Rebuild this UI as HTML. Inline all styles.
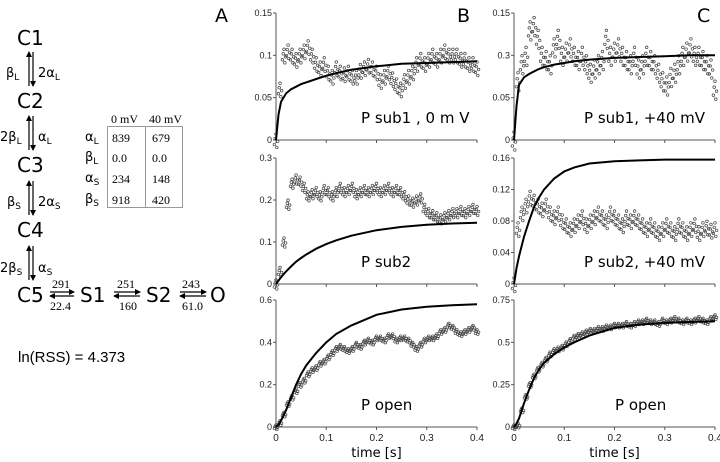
<!DOCTYPE html>
<html><head><meta charset="utf-8"><style>
html,body{margin:0;padding:0;background:#fff;width:720px;height:462px;overflow:hidden}
svg{display:block;font-family:"Liberation Sans",sans-serif}
</style></head><body>
<svg id="fig" width="720" height="462" viewBox="0 0 720 462">
<defs>
  <marker id="ah" viewBox="0 0 6 6" refX="5" refY="3" markerWidth="5" markerHeight="5" orient="auto"><path d="M0 0L6 3L0 6z" fill="#000"/></marker>
</defs>
<g id="diagram" font-family="'DejaVu Sans','Liberation Sans',sans-serif" fill="#000">
  <text x="215" y="22" font-size="19">A</text>
  <text x="17" y="45" font-size="20">C1</text>
  <text x="17" y="108" font-size="20">C2</text>
  <text x="17" y="172" font-size="20">C3</text>
  <text x="17" y="237" font-size="20">C4</text>
  <text x="17" y="302" font-size="20">C5</text>
  <text x="80" y="302" font-size="20">S1</text>
  <text x="146" y="302" font-size="20">S2</text>
  <text x="210" y="302" font-size="20">O</text>
  <g stroke="#000" stroke-width="1.2">
    <line x1="29" y1="86" x2="29" y2="52" marker-end="url(#ah)"/><line x1="33" y1="52" x2="33" y2="86" marker-end="url(#ah)"/>
    <line x1="29" y1="150" x2="29" y2="116" marker-end="url(#ah)"/><line x1="33" y1="116" x2="33" y2="150" marker-end="url(#ah)"/>
    <line x1="29" y1="215" x2="29" y2="181" marker-end="url(#ah)"/><line x1="33" y1="181" x2="33" y2="215" marker-end="url(#ah)"/>
    <line x1="29" y1="280" x2="29" y2="246" marker-end="url(#ah)"/><line x1="33" y1="246" x2="33" y2="280" marker-end="url(#ah)"/>
    <line x1="50" y1="292" x2="74" y2="292" marker-end="url(#ah)"/><line x1="74" y1="296" x2="50" y2="296" marker-end="url(#ah)"/>
    <line x1="114" y1="292" x2="140" y2="292" marker-end="url(#ah)"/><line x1="140" y1="296" x2="114" y2="296" marker-end="url(#ah)"/>
    <line x1="180" y1="292" x2="206" y2="292" marker-end="url(#ah)"/><line x1="206" y1="296" x2="180" y2="296" marker-end="url(#ah)"/>
  </g>
  <g font-size="13">
    <text x="6" y="77">β<tspan font-size="9" dy="3">L</tspan></text><text x="38" y="77">2α<tspan font-size="9" dy="3">L</tspan></text>
    <text x="0" y="141">2β<tspan font-size="9" dy="3">L</tspan></text><text x="38" y="141">α<tspan font-size="9" dy="3">L</tspan></text>
    <text x="7" y="206">β<tspan font-size="9" dy="3">S</tspan></text><text x="38" y="206">2α<tspan font-size="9" dy="3">S</tspan></text>
    <text x="0" y="272">2β<tspan font-size="9" dy="3">S</tspan></text><text x="38" y="272">α<tspan font-size="9" dy="3">S</tspan></text>
  </g>
  <g font-family="'Liberation Serif',serif" font-size="12">
    <text x="52" y="288">291</text><text x="50" y="310">22.4</text>
    <text x="117" y="288">251</text><text x="119" y="310">160</text>
    <text x="182" y="288">243</text><text x="182" y="310">61.0</text>
  </g>
  <g>
    <rect x="107.5" y="126.5" width="75" height="81" fill="none" stroke="#999"/>
    <line x1="145.5" y1="126" x2="145.5" y2="207" stroke="#999"/>
    <g font-family="'Liberation Serif',serif" font-size="12">
      <text x="111" y="123">0 mV</text><text x="149" y="123">40 mV</text>
      <text x="112" y="142">839</text><text x="152" y="142">679</text>
      <text x="112" y="162">0.0</text><text x="152" y="162">0.0</text>
      <text x="112" y="183">234</text><text x="152" y="183">148</text>
      <text x="112" y="204">918</text><text x="152" y="204">420</text>
    </g>
    <g font-size="13">
      <text x="85" y="141">α<tspan font-size="9" dy="3">L</tspan></text>
      <text x="85" y="161">β<tspan font-size="9" dy="3">L</tspan></text>
      <text x="85" y="182">α<tspan font-size="9" dy="3">S</tspan></text>
      <text x="85" y="203">β<tspan font-size="9" dy="3">S</tspan></text>
    </g>
  </g>
  <text x="18" y="362" font-size="15" font-family="'Liberation Sans',sans-serif">ln(RSS) = 4.373</text>
  <text x="457" y="22" font-size="19">B</text>
  <text x="697" y="22" font-size="19">C</text>
</g>
<g id="charts"></g>
</svg>
<script>
// time grid for scatter data (s)
const dataTimes = [0,0.008,0.016,0.024,0.032,0.04,0.048,0.056,0.064,0.072,0.08,0.088,0.096,0.104,0.112,0.12,0.128,0.136,0.144,0.152,0.16,0.168,0.176,0.184,0.192,0.2,0.208,0.216,0.224,0.232,0.24,0.248,0.256,0.264,0.272,0.28,0.288,0.296,0.304,0.312,0.32,0.328,0.336,0.344,0.352,0.36,0.368,0.376,0.384,0.392,0.4];
const fitTimes = [0,0.005,0.01,0.02,0.03,0.04,0.05,0.06,0.08,0.1,0.12,0.15,0.2,0.25,0.3,0.35,0.4];
const xTicks = [0,0.1,0.2,0.3,0.4];
const xTickLabels = ["0","0.1","0.2","0.3","0.4"];

const b1Data = [0,0.06,0.1,0.105,0.1,0.095,0.1,0.105,0.11,0.1,0.09,0.085,0.09,0.08,0.075,0.085,0.08,0.078,0.08,0.075,0.075,0.082,0.085,0.088,0.085,0.08,0.07,0.075,0.08,0.072,0.065,0.06,0.07,0.075,0.08,0.09,0.095,0.09,0.095,0.1,0.095,0.1,0.105,0.1,0.1,0.1,0.095,0.095,0.09,0.09,0.085];
const b1Fit = [0,0.03,0.045,0.055,0.06,0.063,0.066,0.068,0.072,0.076,0.079,0.083,0.087,0.09,0.091,0.092,0.093];
const b1Ticks = [0,0.05,0.1,0.15];
const b1TickLabels = ["0","0.05","0.1","0.15"];

const c1Data = [0,0.07,0.09,0.1,0.13,0.135,0.12,0.1,0.095,0.09,0.11,0.12,0.1,0.105,0.11,0.1,0.095,0.1,0.09,0.08,0.085,0.09,0.095,0.12,0.1,0.105,0.11,0.1,0.095,0.09,0.1,0.085,0.09,0.1,0.095,0.09,0.08,0.07,0.065,0.075,0.08,0.09,0.1,0.105,0.11,0.1,0.1,0.095,0.09,0.085,0.06];
const c1Fit = [0,0.04,0.065,0.074,0.078,0.081,0.084,0.086,0.089,0.091,0.093,0.095,0.097,0.098,0.099,0.1,0.1];
const c1Ticks = [0,0.05,0.1,0.15];
const c1TickLabels = ["0","0.05","0.3","0.15"];

const b2Data = [0,0.03,0.1,0.19,0.24,0.25,0.245,0.23,0.21,0.215,0.22,0.21,0.225,0.22,0.21,0.22,0.23,0.22,0.225,0.23,0.215,0.22,0.225,0.22,0.225,0.23,0.22,0.225,0.23,0.22,0.225,0.22,0.21,0.2,0.195,0.2,0.205,0.18,0.17,0.165,0.16,0.155,0.16,0.165,0.17,0.17,0.175,0.17,0.175,0.18,0.175];
const b2Fit = [0,0.008,0.016,0.03,0.042,0.053,0.062,0.07,0.084,0.095,0.104,0.115,0.128,0.136,0.141,0.144,0.146];
const b2Ticks = [0,0.1,0.2,0.3];
const b2TickLabels = ["0","0.1","0.2","0.3"];

const c2Data = [0,0.07,0.09,0.1,0.11,0.105,0.1,0.095,0.1,0.09,0.085,0.09,0.08,0.075,0.07,0.075,0.08,0.085,0.075,0.08,0.085,0.09,0.085,0.08,0.09,0.085,0.08,0.075,0.085,0.08,0.085,0.08,0.075,0.07,0.075,0.07,0.065,0.07,0.075,0.07,0.065,0.075,0.07,0.065,0.07,0.075,0.065,0.07,0.072,0.068,0.07];
const c2Fit = [0,0.02,0.035,0.06,0.08,0.098,0.11,0.12,0.134,0.143,0.148,0.153,0.156,0.157,0.158,0.158,0.158];
const c2Ticks = [0,0.04,0.08,0.12,0.16];
const c2TickLabels = ["0","0.04","0.08","0.12","0.16"];

const b3Data = [0,0.02,0.06,0.11,0.14,0.17,0.2,0.22,0.25,0.27,0.28,0.3,0.31,0.33,0.35,0.37,0.38,0.37,0.36,0.37,0.39,0.38,0.4,0.41,0.4,0.42,0.42,0.41,0.43,0.43,0.41,0.42,0.42,0.41,0.39,0.37,0.39,0.41,0.42,0.42,0.43,0.45,0.46,0.48,0.47,0.45,0.44,0.45,0.46,0.47,0.45];
const b3Fit = [0,0.01,0.03,0.08,0.14,0.2,0.25,0.29,0.35,0.4,0.44,0.48,0.53,0.555,0.568,0.575,0.58];
const b3Ticks = [0,0.2,0.4,0.6];
const b3TickLabels = ["0","0.2","0.4","0.6"];

const c3Data = [0,0.01,0.1,0.18,0.25,0.3,0.34,0.37,0.4,0.43,0.45,0.46,0.47,0.49,0.51,0.53,0.54,0.55,0.56,0.57,0.57,0.58,0.58,0.59,0.59,0.6,0.6,0.6,0.61,0.6,0.61,0.62,0.62,0.63,0.62,0.62,0.61,0.63,0.62,0.63,0.64,0.63,0.62,0.63,0.62,0.63,0.64,0.63,0.62,0.64,0.65];
const c3Fit = [0,0.02,0.05,0.14,0.22,0.29,0.34,0.38,0.43,0.47,0.5,0.54,0.585,0.605,0.615,0.62,0.624];
const c3Ticks = [0,0.25,0.5,0.75];
const c3TickLabels = ["0","0.25","0.5","0.75"];

const NS = "http://www.w3.org/2000/svg";
const root = document.getElementById('charts');
function mk(tag, attrs, parent){const e=document.createElementNS(NS,tag);for(const k in attrs)e.setAttribute(k,attrs[k]);parent.appendChild(e);return e;}
// marker cluster pattern (pixel offsets) to mimic dense sampling; style only
const clusterDx = [-1.6,0,1.6,-0.8,0.8];
const clusterDy = [1.5,-2,0.5,-0.5,2.5];

function panel(name, x0, x1, yTop, yBot, yMax, data, fit, yt, ytl, label, labelX, showX, noisy){
  const g = mk('g',{},root);
  
  
  const sx = t => x0 + (t/0.4)*(x1-x0);
  const sy = v => yBot - (v/yMax)*(yBot-yTop);
  const ax = mk('path',{d:`M${x0} ${yTop} V${yBot} H${x1}`,fill:'none',stroke:'#555','stroke-width':1},g);
  
  
  yt.forEach((v,i)=>{
    mk('line',{x1:x0-3,x2:x0,y1:sy(v),y2:sy(v),stroke:'#555'},g);
    const t = mk('text',{x:x0-4,y:sy(v)+3,'font-size':9,'text-anchor':'end',fill:'#222'},g);
    t.textContent = ytl[i];
    
    
  });
  xTicks.forEach((v,i)=>{
    mk('line',{x1:sx(v),x2:sx(v),y1:yBot,y2:yBot+3,stroke:'#555'},g);
    if(showX){
      const t = mk('text',{x:sx(v),y:yBot+14,'font-size':10,'text-anchor':'middle',fill:'#222'},g);
      t.textContent = xTickLabels[i];
      
      
    }
  });
  data.forEach((v,i)=>{
    clusterDx.forEach((dx,k)=>{
      const c = mk('circle',{cx:sx(dataTimes[i])+dx,cy:sy(v)+clusterDy[k]*noisy,r:1.3,fill:'none',stroke:'#444','stroke-width':0.7},g);
      
      
    });
  });
  const p = mk('path',{d:fit.map((v,i)=>(i?'L':'M')+sx(fitTimes[i]).toFixed(1)+' '+sy(v).toFixed(1)).join(''),fill:'none',stroke:'#000','stroke-width':2},g);
  
  
  const l = mk('text',{x:labelX,y:yBot-17,'font-size':15,fill:'#000','font-family':"'DejaVu Sans','Liberation Sans',sans-serif"},g);
  l.textContent = label;
  
  
  if(showX){
    const tl = mk('text',{x:(x0+x1)/2,y:457,'font-size':13,'text-anchor':'middle',fill:'#000','font-family':"'DejaVu Sans','Liberation Sans',sans-serif"},g);
    tl.textContent = 'time  [s]';
    
    
  }
}
panel('chart-b-sub1',276,477,13,140,0.15,b1Data,b1Fit,b1Ticks,b1TickLabels,'P  sub1 , 0 m V',361,false,3);
panel('chart-c-sub1',514,715,13,140,0.15,c1Data,c1Fit,c1Ticks,c1TickLabels,'P  sub1,  +40 mV',584,false,4);
panel('chart-b-sub2',276,477,158,284,0.3,b2Data,b2Fit,b2Ticks,b2TickLabels,'P  sub2',361,false,2);
panel('chart-c-sub2',514,715,158,284,0.16,c2Data,c2Fit,c2Ticks,c2TickLabels,'P  sub2,  +40 mV',584,false,3);
panel('chart-b-open',276,477,300,427,0.6,b3Data,b3Fit,b3Ticks,b3TickLabels,'P  open',361,true,1);
panel('chart-c-open',514,715,300,427,0.75,c3Data,c3Fit,c3Ticks,c3TickLabels,'P  open',615,true,1);
</script>
</body></html>
